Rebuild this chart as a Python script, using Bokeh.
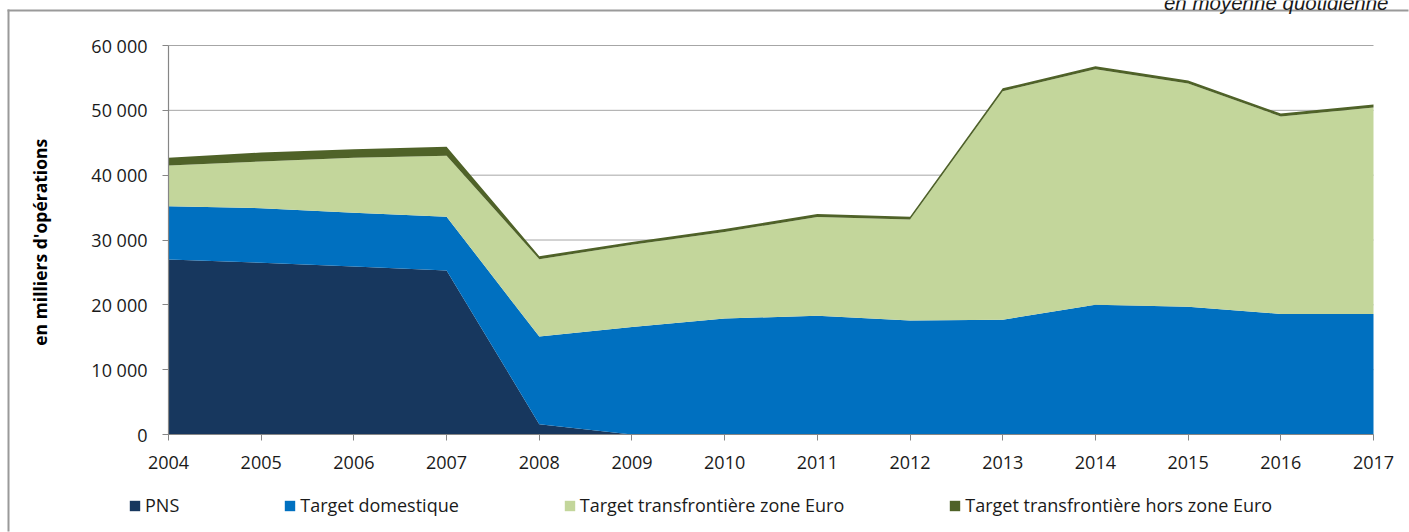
from bokeh.plotting import figure
from bokeh.models import Legend, LegendItem, FixedTicker, Label, ColumnDataSource, Range1d
from bokeh.embed import file_html
from bokeh.resources import INLINE

years = list(range(2004, 2018))
pns = [27000, 26500, 25900, 25300, 1600, 0, 0, 0, 0, 0, 0, 0, 0, 0]
domestique = [8200, 8400, 8300, 8300, 13500, 16600, 17900, 18300, 17600, 17700, 20000, 19700, 18600, 18600]
zone_euro = [6300, 7200, 8500, 9400, 11950, 12650, 13350, 15250, 15550, 35250, 36350, 34450, 30450, 31850]
hors_zone = [1200, 1400, 1300, 1400, 450, 450, 450, 450, 450, 450, 450, 450, 450, 450]

series_keys = ["pns", "dom", "euro", "hors"]
series_names = ["PNS", "Target domestique", "Target transfrontière zone Euro",
                "Target transfrontière hors zone Euro"]
colors = ["#17375E", "#0070C0", "#C3D69B", "#4F6228"]

y_ticks = [0, 10000, 20000, 30000, 40000, 50000, 60000]
y_tick_labels = ["0", "10 000", "20 000", "30 000", "40 000", "50 000", "60 000"]

subtitle = "en moyenne quotidienne"
y_title = "en milliers  d'opérations"

# ---- layout (pixels) ----
W, H = 1409, 532
PLOT_L, PLOT_R, PLOT_T, PLOT_B = 168, 1373, 45, 434
x0, x1 = years[0], years[-1]
y0, y1 = y_ticks[0], y_ticks[-1]
xpp = (x1 - x0) / (PLOT_R - PLOT_L)
ypp = (y1 - y0) / (PLOT_B - PLOT_T)


def px_x(px):
    return x0 + (px - PLOT_L) * xpp


def px_y(py):
    return y0 + (PLOT_B - py) * ypp


source = ColumnDataSource(dict(year=years, pns=pns, dom=domestique, euro=zone_euro, hors=hors_zone))
grid_src = ColumnDataSource(dict(x0=[x0] * len(y_ticks), x1=[x1] * len(y_ticks), y=y_ticks))

FONT = "Open Sans"

p = figure(width=W, height=H, x_range=Range1d(px_x(0), px_x(W)), y_range=Range1d(px_y(H), px_y(0)),
           output_backend="svg", toolbar_location=None, min_border=0)
p.outline_line_color = None
p.background_fill_color = "white"
p.xgrid.visible = False
p.ygrid.visible = False

# page frame (top and left rules) as thin filled strips
p.quad(left=[px_x(7), px_x(7)], right=[px_x(W - 1), px_x(9)],
       top=[px_y(9), px_y(9)], bottom=[px_y(11), px_y(H - 1)],
       fill_color="#9A9A9A", line_color=None)

p.segment(x0="x0", x1="x1", y0="y", y1="y", source=grid_src, line_color="#A6A6A6", line_width=1)

renderers = p.varea_stack(stackers=series_keys, x="year", color=colors, source=source)

p.xaxis.ticker = FixedTicker(ticks=years)
p.yaxis.ticker = FixedTicker(ticks=y_ticks)
p.yaxis.major_label_overrides = {t: l for t, l in zip(y_ticks, y_tick_labels)}
p.xaxis.fixed_location = y0
p.xaxis.bounds = (x0, x1)
p.yaxis.fixed_location = x0
p.yaxis.bounds = (y0, y1)
for ax in (p.xaxis[0], p.yaxis[0]):
    ax.axis_line_color = "#868686"
    ax.axis_line_width = 1.2
    ax.major_tick_line_color = "#868686"
    ax.major_tick_out = 6
    ax.major_tick_in = 0
    ax.minor_tick_line_color = None
    ax.major_label_text_font = FONT
    ax.major_label_text_font_size = "18px"
    ax.major_label_text_color = "#1a1a1a"
p.yaxis.major_label_standoff = 15
p.xaxis.major_label_standoff = 15
p.yaxis.axis_label = y_title
p.yaxis.axis_label_text_font = FONT
p.yaxis.axis_label_text_font_style = "bold"
p.yaxis.axis_label_text_font_size = "17.5px"
p.yaxis.axis_label_text_color = "#000000"
p.yaxis.axis_label_standoff = 36

items = [LegendItem(label=n, renderers=[r]) for n, r in zip(series_names, renderers)]
legend = Legend(items=items, location=(128, 15), orientation="horizontal",
                glyph_width=13, glyph_height=13, label_standoff=4, spacing=104,
                padding=0, margin=0, border_line_color=None, background_fill_alpha=0,
                label_text_font=FONT, label_text_font_size="18px", label_text_color="#1a1a1a")
p.add_layout(legend, "center")

p.add_layout(Label(x=px_x(1388), y=px_y(1.5), text=subtitle, text_align="right",
                   text_baseline="alphabetic", text_font="Liberation Sans",
                   text_font_style="italic", text_font_size="20.5px", text_color="#1a1a1a"))

open("out.html", "w").write(file_html(p, INLINE))
